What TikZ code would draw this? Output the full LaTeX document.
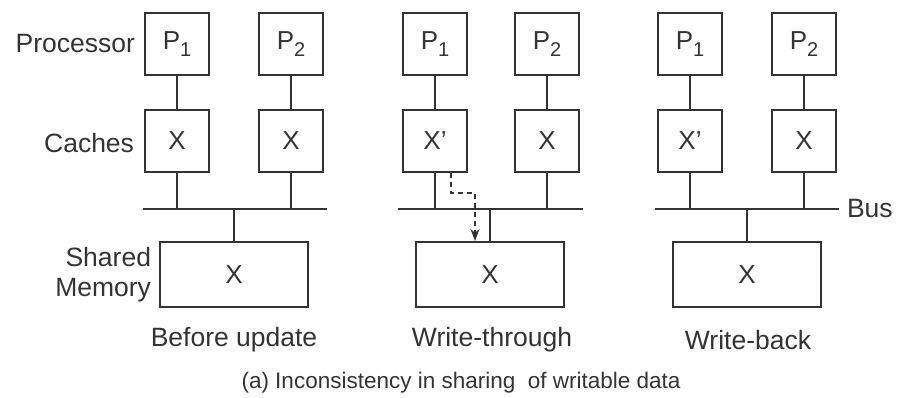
\documentclass[tikz,border=0pt]{standalone}
\usepackage{fontspec}
\setmainfont{Liberation Sans}
\usetikzlibrary{arrows.meta}
\definecolor{ink}{HTML}{333333}
\newcommand{\idx}[1]{\raisebox{-0.45ex}{\fontsize{20}{20}\selectfont #1}}
\begin{document}
\begin{tikzpicture}[x=1pt,y=-1pt,
  line width=2pt, draw=ink,
  lbl/.style={text=ink, font=\fontsize{26.5}{30}\selectfont, inner sep=0pt},
  small/.style={lbl, font=\fontsize{22.5}{27}\selectfont},
  unit/.style={draw=ink, line width=2pt, text=ink, font=\fontsize{26}{30}\selectfont,
    minimum width=64pt, minimum height=62pt, inner sep=0pt},
  memory/.style={unit, minimum width=148pt, minimum height=65pt},
  wire/.style={draw=ink, line width=2pt},
  writeflow/.style={draw=ink, line width=2pt, dash pattern=on 5pt off 4pt,
    -{Stealth[length=12pt,width=9pt]}}]
  \useasboundingbox (0,0) rectangle (898,398);

  % three bus-based systems: processors, caches, bus, shared memory
  \foreach \i/\a/\b/\m/\bl/\br/\ca in {
      1/177/291/234/143/327/X,
      2/435/547/490/398/583/X’,
      3/690/804/747/655/839/X’}{
    \node[unit] (p\i a) at (\a,44) {P\idx{1}};
    \node[unit] (p\i b) at (\b,44) {P\idx{2}};
    \node[unit] (c\i a) at (\a,141) {\ca};
    \node[unit] (c\i b) at (\b,141) {X};
    \coordinate (bl\i) at (\bl,209);
    \coordinate (br\i) at (\br,209);
    \node[memory] (m\i) at (\m,274.5) {X};
    \draw[wire] (p\i a) -- (c\i a);
    \draw[wire] (p\i b) -- (c\i b);
    \draw[wire] (bl\i) -- (br\i);
    \draw[wire] (c\i a.south) -- (c\i a.south |- bl\i);
    \draw[wire] (c\i b.south) -- (c\i b.south |- bl\i);
    \draw[wire] (m\i.north) -- (m\i.north |- bl\i);
  }

  % write-through path from the updated cache down to memory
  \coordinate (d1) at (451,193);
  \coordinate (d2) at (475,193);
  \draw[writeflow] (d1 |- c2a.south) -- (d1) -- (d2) -- (d2 |- m2.north);

  % row labels
  \node[lbl, anchor=east] (lproc) at (136,44) {Processor};
  \node[lbl, anchor=east] (lcache) at (135,143) {Caches};
  \node[lbl, anchor=east, align=right] (lmem) at (152,275) {Shared\\Memory};
  \node[lbl, anchor=west] (lbus) at (846,209) {Bus};

  % panel titles and caption
  \node[lbl] (t1) at (234,340) {Before update};
  \node[lbl] (t2) at (492,340) {Write-through};
  \node[lbl] (t3) at (748,340) {Write-back};
  \node[small] (cap) at (461,383) {(a) Inconsistency in sharing\ \ of writable data};
\end{tikzpicture}
\end{document}
